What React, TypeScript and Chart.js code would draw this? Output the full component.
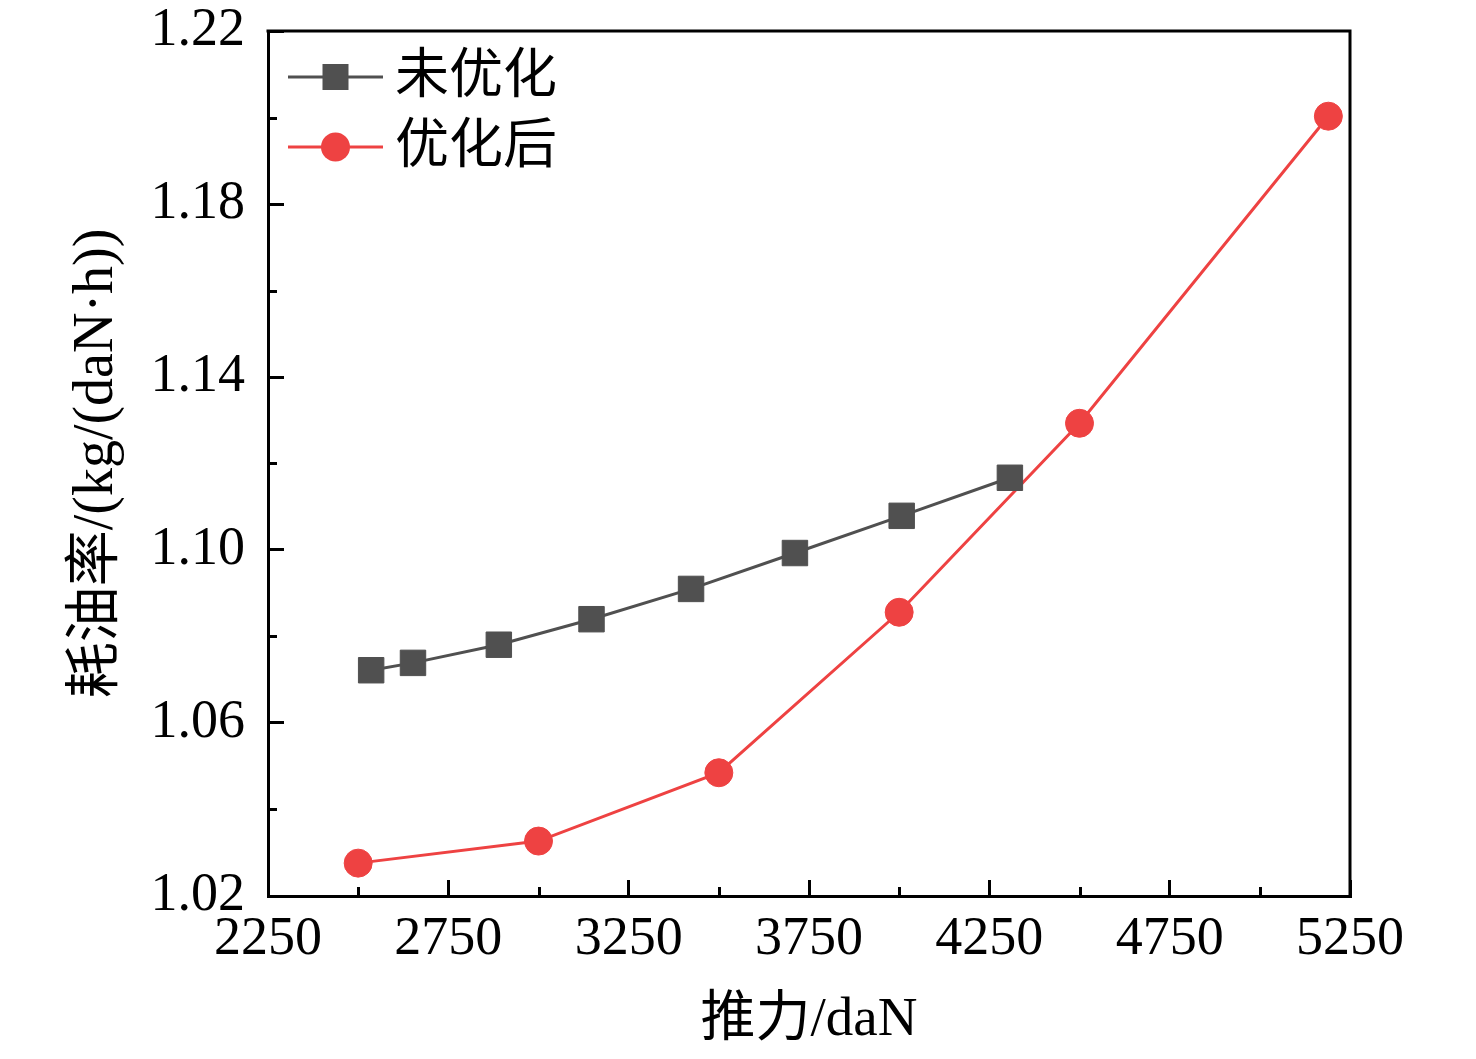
import { useEffect, useRef } from 'react'
import { Chart, registerables } from 'chart.js'

Chart.register(...registerables)

// 推力 (daN) 与耗油率 (kg/(daN·h))
const seriesNames = ['未优化', '优化后']
const thrustBefore = [2536, 2652, 2890, 3147, 3423, 3711, 4007, 4307]
const sfcBefore = [1.0722, 1.0739, 1.0781, 1.084, 1.091, 1.0993, 1.1079, 1.1167]
const thrustAfter = [2500, 3000, 3500, 4000, 4500, 5190]
const sfcAfter = [1.0276, 1.0327, 1.0485, 1.0856, 1.1293, 1.2003]

const xTicks = [2250, 2750, 3250, 3750, 4250, 4750, 5250]
const xMinorTicks = [2500, 3000, 3500, 4000, 4500, 5000]
const yTicks = [1.02, 1.06, 1.1, 1.14, 1.18, 1.22]
const yMinorTicks = [1.04, 1.08, 1.12, 1.16, 1.2]

const FONT = '"Liberation Serif", "Noto Sans CJK SC", serif'
const GREY = '#505050'
const RED = '#ee4242'

// top/right frame lines and short minor ticks (Chart.js has no minor ticks)
const framePlugin = {
  id: 'frame',
  beforeDatasetsDraw(chart: any) {
    const { ctx, chartArea: a, scales } = chart
    ctx.save()
    ctx.strokeStyle = '#000'
    ctx.lineWidth = 3
    ctx.lineJoin = 'miter'
    ctx.beginPath()
    ctx.moveTo(a.left - 1.5, a.top)
    ctx.lineTo(a.right, a.top)
    ctx.lineTo(a.right, a.bottom + 1.5)
    ctx.stroke()
    ctx.beginPath()
    xMinorTicks.forEach((v) => {
      const px = Math.round(scales.x.getPixelForValue(v)) + 0.5
      ctx.moveTo(px, a.bottom)
      ctx.lineTo(px, a.bottom - 9)
    })
    yMinorTicks.forEach((v) => {
      const py = Math.round(scales.y.getPixelForValue(v)) + 0.5
      ctx.moveTo(a.left, py)
      ctx.lineTo(a.left + 9, py)
    })
    ctx.stroke()
    ctx.restore()
  }
}

// legend in the top-left corner of the plot, line through marker
const legendPlugin = {
  id: 'cornerLegend',
  afterDraw(chart: any) {
    const { ctx, chartArea: a } = chart
    chart.data.datasets.forEach((ds: any, i: number) => {
      const y = a.top + 46 + i * 70
      const x0 = a.left + 20
      const x1 = a.left + 115
      const xm = (x0 + x1) / 2
      ctx.save()
      ctx.strokeStyle = ds.borderColor
      ctx.lineWidth = 3
      ctx.beginPath()
      ctx.moveTo(x0, y)
      ctx.lineTo(x1, y)
      ctx.stroke()
      ctx.fillStyle = ds.pointBackgroundColor
      if (ds.pointStyle === 'rect') {
        ctx.fillRect(xm - 13, y - 13, 26, 26)
      } else {
        ctx.beginPath()
        ctx.arc(xm, y, 14.5, 0, Math.PI * 2)
        ctx.fill()
      }
      ctx.fillStyle = '#000'
      ctx.font = `54px ${FONT}`
      ctx.textBaseline = 'middle'
      ctx.textAlign = 'left'
      ctx.fillText(ds.label, a.left + 127, y + 2)
      ctx.restore()
    })
  }
}

export default function App() {
  const canvasRef = useRef<HTMLCanvasElement>(null)
  const chartRef = useRef<Chart | null>(null)

  useEffect(() => {
    if (!canvasRef.current) return
    const ctx = canvasRef.current.getContext('2d')
    if (!ctx) return

    chartRef.current = new Chart(ctx, {
      type: 'line',
      data: {
        datasets: [
          {
            label: seriesNames[0],
            data: thrustBefore.map((x, i) => ({ x, y: sfcBefore[i] })),
            borderColor: GREY,
            backgroundColor: GREY,
            pointBackgroundColor: GREY,
            pointBorderColor: GREY,
            pointStyle: 'rect',
            pointRadius: 18,
            pointBorderWidth: 1,
            borderWidth: 3
          },
          {
            label: seriesNames[1],
            data: thrustAfter.map((x, i) => ({ x, y: sfcAfter[i] })),
            borderColor: RED,
            backgroundColor: RED,
            pointBackgroundColor: RED,
            pointBorderColor: RED,
            pointStyle: 'circle',
            pointRadius: 14,
            pointBorderWidth: 1,
            borderWidth: 3
          }
        ]
      },
      options: {
        responsive: true,
        maintainAspectRatio: false,
        animation: false,
        layout: { padding: { top: 31, right: 126, left: 0, bottom: 0 } },
        plugins: {
          legend: { display: false },
          tooltip: { enabled: false }
        },
        scales: {
          x: {
            type: 'linear',
            min: 2250,
            max: 5250,
            afterBuildTicks: (scale: any) => {
              scale.ticks = xTicks.map((value) => ({ value }))
            },
            afterFit: (scale: any) => {
              scale.height = 163
              scale.paddingLeft = 0
              scale.paddingRight = 0
            },
            border: { display: true, color: '#000', width: 3 },
            grid: {
              drawOnChartArea: false,
              drawTicks: true,
              tickLength: -16,
              tickWidth: 3,
              tickColor: '#000'
            },
            ticks: {
              color: '#000',
              padding: 27,
              maxRotation: 0,
              autoSkip: false,
              font: { family: FONT, size: 54 },
              callback: (v: any) => String(v)
            },
            title: {
              display: true,
              text: '推力/daN',
              color: '#000',
              font: { family: FONT, size: 55 },
              padding: { top: 0, bottom: 5 }
            }
          },
          y: {
            type: 'linear',
            min: 1.02,
            max: 1.22,
            afterBuildTicks: (scale: any) => {
              scale.ticks = yTicks.map((value) => ({ value }))
            },
            afterFit: (scale: any) => {
              scale.width = 268
              scale.paddingTop = 0
              scale.paddingBottom = 0
            },
            border: { display: true, color: '#000', width: 3 },
            grid: {
              drawOnChartArea: false,
              drawTicks: true,
              tickLength: -16,
              tickWidth: 3,
              tickColor: '#000'
            },
            ticks: {
              color: '#000',
              padding: 39,
              autoSkip: false,
              font: { family: FONT, size: 54 },
              callback: (v: any) => Number(v).toFixed(2)
            },
            title: {
              display: true,
              text: '耗油率/(kg/(daN·h))',
              color: '#000',
              font: { family: FONT, size: 56 },
              padding: { top: 64, bottom: 0 }
            }
          }
        }
      },
      plugins: [framePlugin, legendPlugin]
    })

    return () => {
      if (chartRef.current) chartRef.current.destroy()
    }
  }, [])

  return (
    <div style={{ position: 'fixed', left: 0, top: 0, width: '1476px', height: '1059px', background: '#fff' }}>
      <canvas ref={canvasRef}></canvas>
    </div>
  )
}
